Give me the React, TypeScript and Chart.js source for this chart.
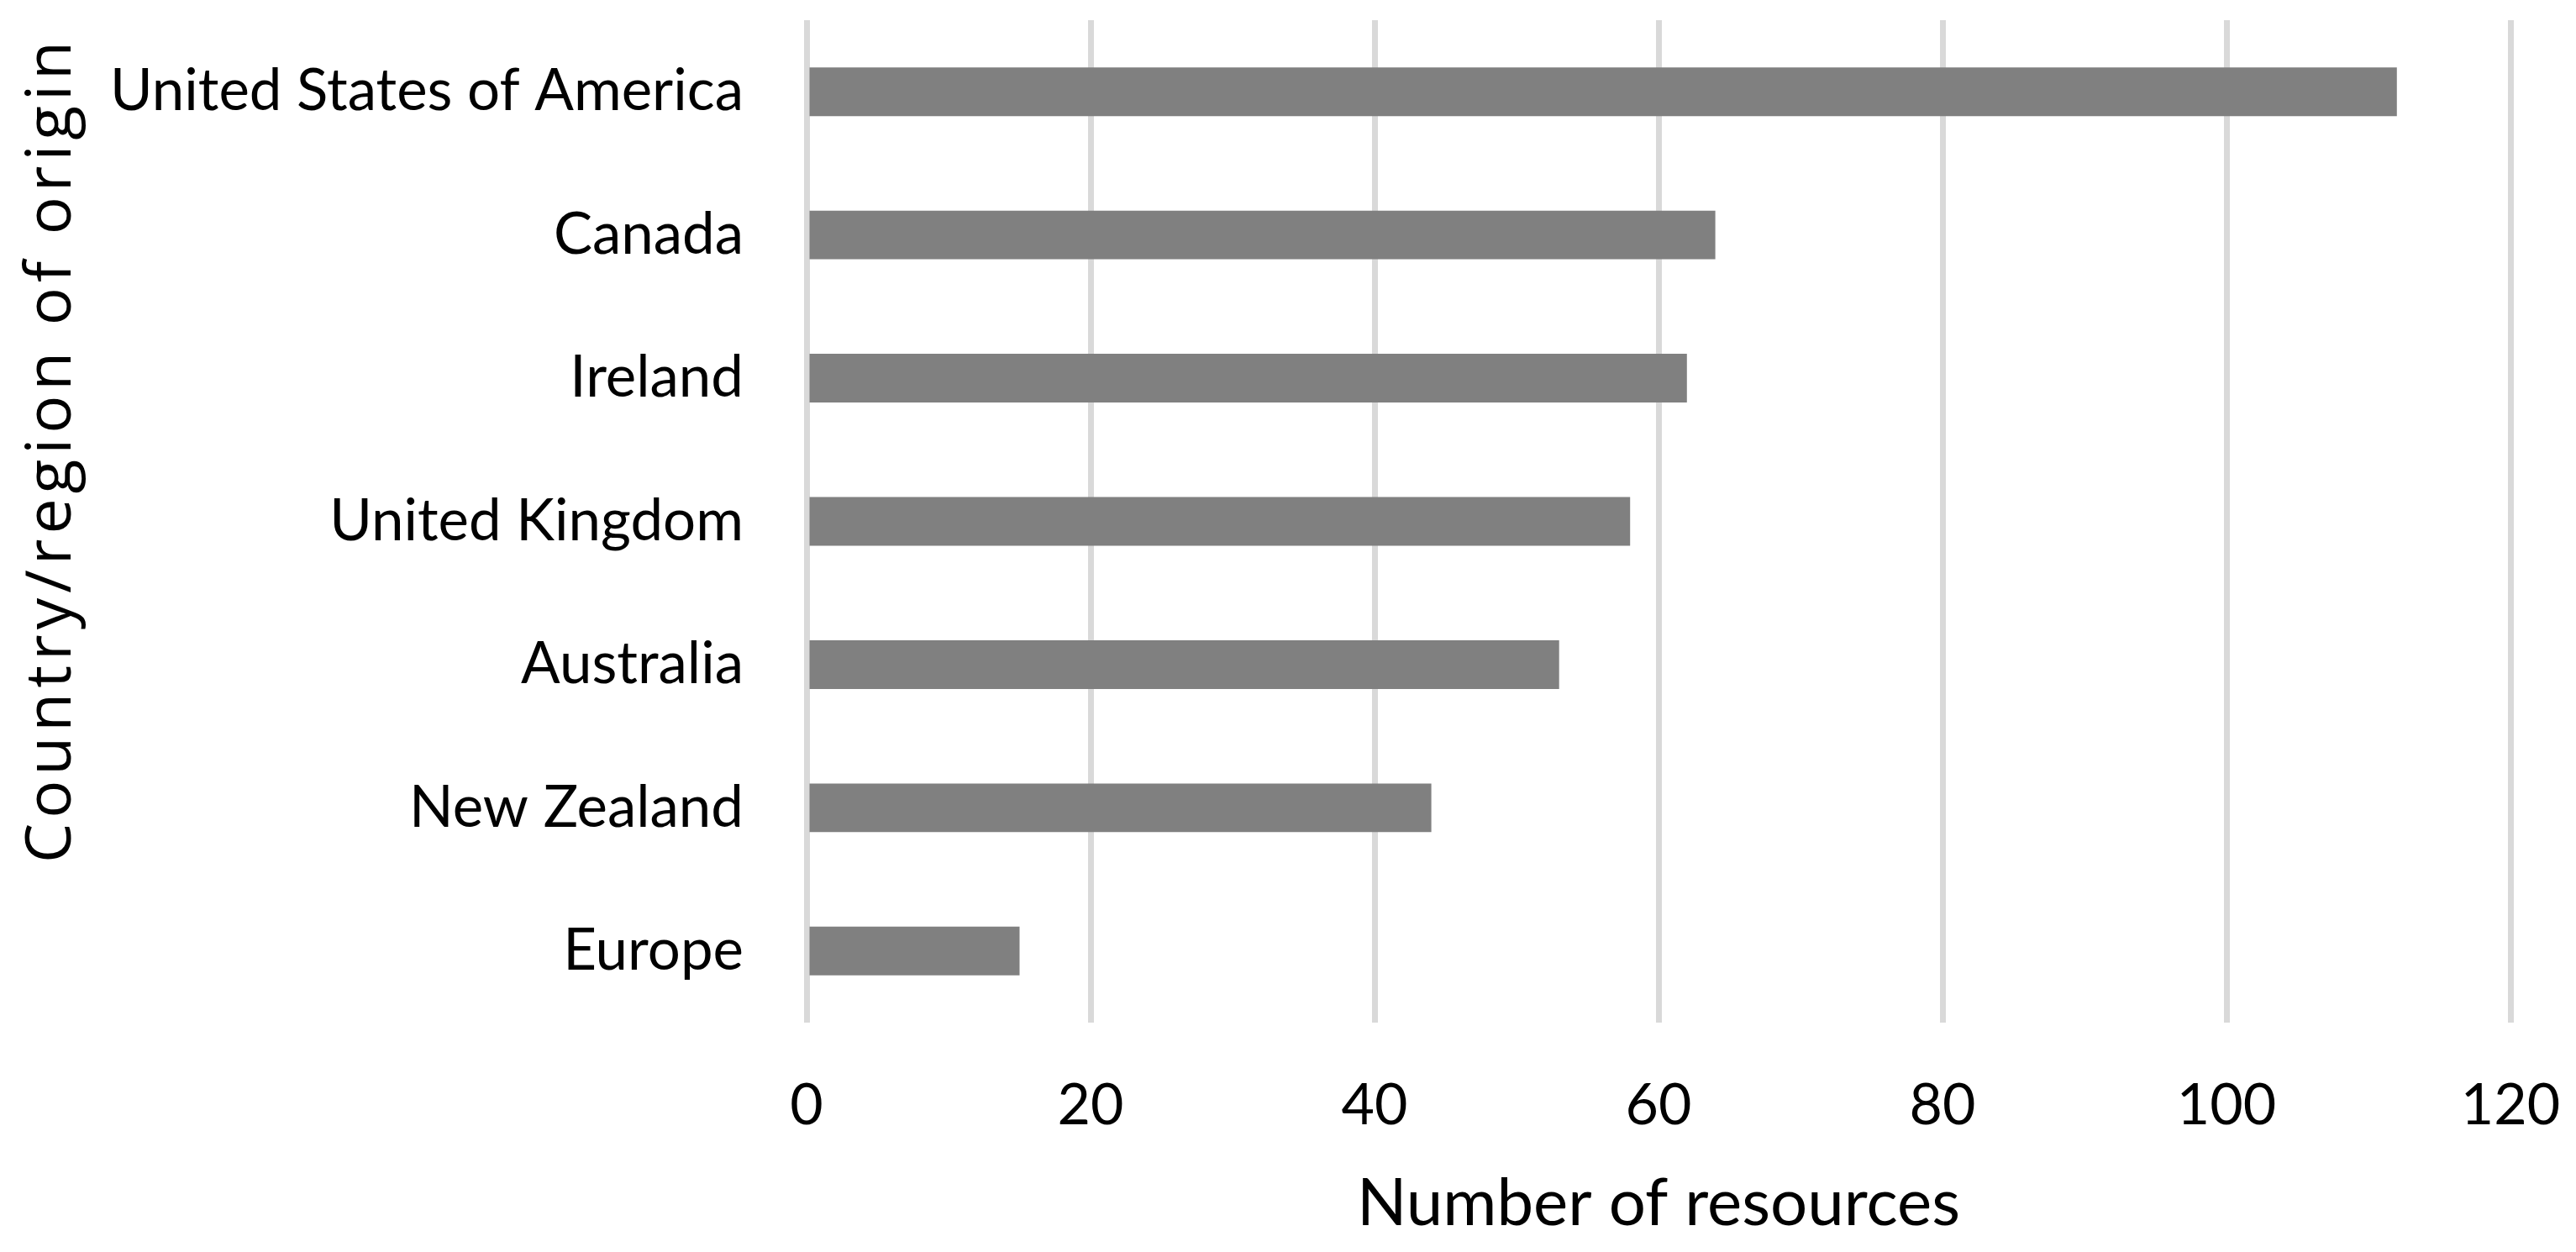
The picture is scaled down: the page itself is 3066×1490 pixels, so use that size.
import React, { useEffect, useRef } from "react";
import { Chart, registerables } from "chart.js";

Chart.register(...registerables);

const categories = [
  "United States of America",
  "Canada",
  "Ireland",
  "United Kingdom",
  "Australia",
  "New Zealand",
  "Europe",
];
const resourceCounts = [112, 64, 62, 58, 53, 44, 15];
const xTitle = "Number of resources";
const yTitle = "Country/region of origin";

const W = 3066;
const H = 1490;

const yTitlePlugin = {
  id: "yTitlePlugin",
  afterDraw(chart: any) {
    const ctx = chart.ctx;
    ctx.save();
    ctx.translate(63, 535);
    ctx.rotate(-Math.PI / 2);
    ctx.font = '75px "Open Sans"';
    try {
      (ctx as any).letterSpacing = "6px";
    } catch (e) {}
    ctx.fillStyle = "#000";
    ctx.textAlign = "center";
    ctx.textBaseline = "middle";
    ctx.fillText(yTitle, 0, 0);
    ctx.restore();
  },
};

export default function App() {
  const ref = useRef<HTMLCanvasElement | null>(null);
  useEffect(() => {
    if (!ref.current) return;
    const chart = new Chart(ref.current, {
      type: "bar",
      data: {
        labels: categories,
        datasets: [
          {
            data: resourceCounts,
            backgroundColor: "#808080",
            borderWidth: 0,
            categoryPercentage: 1,
            barPercentage: 0.34,
          },
        ],
      },
      options: {
        indexAxis: "y",
        animation: false,
        responsive: false,
        devicePixelRatio: 1,
        layout: { padding: { top: 24, right: 78, left: 0, bottom: 0 } },
        plugins: {
          legend: { display: false },
          tooltip: { enabled: false },
        },
        scales: {
          x: {
            min: 0,
            max: 120,
            ticks: {
              stepSize: 20,
              color: "#000",
              font: { family: "Lato", size: 68 },
              padding: 58,
            },
            grid: {
              color: "#d9d9d9",
              lineWidth: 7,
              drawTicks: false,
            },
            border: { display: false },
            title: {
              display: true,
              text: xTitle,
              color: "#000",
              font: { family: "Lato", size: 78 },
              padding: { top: 0, bottom: 10 },
            },
            afterFit(scale: any) {
              scale.height = 273;
              scale.paddingLeft = 0;
              scale.paddingRight = 0;
            },
          },
          y: {
            ticks: {
              color: "#000",
              font: { family: "Lato", size: 69 },
              padding: 75,
            },
            grid: { display: false, drawTicks: false },
            border: { display: false },
            afterFit(scale: any) {
              scale.width = 960;
              scale.paddingTop = 0;
              scale.paddingBottom = 0;
            },
          },
        },
      },
      plugins: [yTitlePlugin],
    });
    return () => chart.destroy();
  }, []);
  return (
    <div style={{ position: "absolute", left: 0, top: 0, width: W, height: H, background: "#fff" }}>
      <canvas ref={ref} width={W} height={H} style={{ display: "block" }} />
    </div>
  );
}
